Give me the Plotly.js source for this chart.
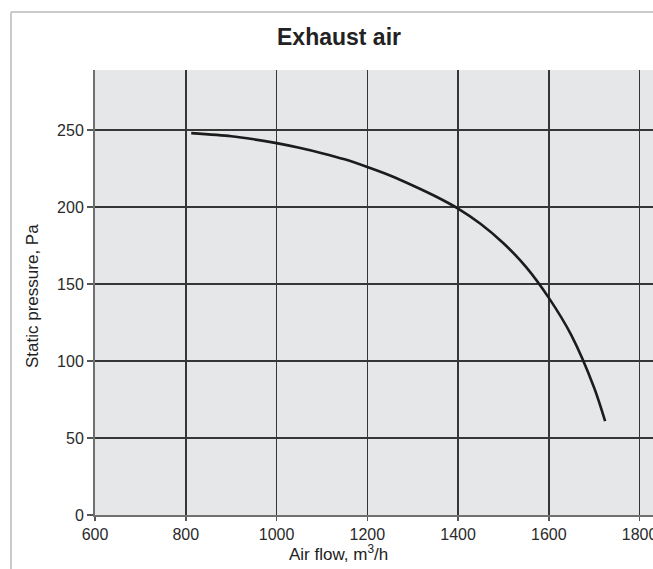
<!DOCTYPE html>
<html>
<head>
<meta charset="utf-8">
<script src="https://cdn.plot.ly/plotly-3.0.1.min.js"></script>
<style>html,body{margin:0;padding:0;background:#fff;}#chart{width:653px;height:569px;}</style>
</head>
<body>
<div id="chart"></div>
<script>
// Curve data
const airFlow = [812, 900, 950, 1000, 1050, 1100, 1150, 1200, 1250, 1300, 1350, 1400, 1450, 1500, 1550, 1600, 1650, 1700, 1724];
const staticPressure = [248, 246, 244, 241.5, 238.5, 235, 231, 226, 220.5, 214, 207, 199, 189, 176.5, 161, 141, 116.5, 82.5, 61];

const xTicks = [600, 800, 1000, 1200, 1400, 1600, 1800];
const yTicks = [0, 50, 100, 150, 200, 250];

const chartTitle = "Exhaust air";
const xTitle = "Air flow, m<sup>3</sup>/h";
const yTitle = "Static pressure, Pa";

const W = 653, H = 569;
const mL = 95, mR = 0, mT = 70, mB = 54;
const pw = W - mL - mR, ph = H - mT - mB;
const px = v => (v - mL) / pw;
const py = v => (H - mB - v) / ph;

const font = "Liberation Sans, Arial, Helvetica, sans-serif";

const trace = {
  x: airFlow, y: staticPressure, type: 'scatter', mode: 'lines',
  line: {color: '#1c1c1c', width: 2.6, shape: 'spline', smoothing: 0.8},
  hoverinfo: 'skip', showlegend: false
};

const layout = {
  width: W, height: H,
  margin: {l: mL, r: mR, t: mT, b: mB, autoexpand: false},
  paper_bgcolor: '#ffffff',
  plot_bgcolor: '#e6e7e9',
  font: {family: font, color: '#2a2a2a', size: 16},
  title: {
    text: '<b>' + chartTitle + '</b>',
    font: {family: font, size: 23, color: '#222'},
    x: 339 / W, xref: 'container', xanchor: 'center',
    y: 1 - 37 / H, yref: 'container', yanchor: 'middle'
  },
  xaxis: {
    range: [600, 600 + pw / 90.77 * 200],
    tickvals: xTicks,
    ticktext: xTicks.map(String),
    ticks: 'outside', ticklen: 4, tickwidth: 1.5, tickcolor: '#555',
    ticklabeloverflow: 'allow',
    showgrid: true, gridcolor: '#363636', gridwidth: 1.5,
    showline: true, linecolor: '#707070', linewidth: 2,
    zeroline: false,
    tickfont: {family: font, size: 16, color: '#2a2a2a'},
    fixedrange: true
  },
  yaxis: {
    range: [0, 289],
    tickvals: yTicks,
    ticktext: yTicks.map(String),
    ticks: 'outside', ticklen: 6, tickwidth: 1.5, tickcolor: '#555',
    showgrid: true, gridcolor: '#363636', gridwidth: 1.5,
    showline: true, linecolor: '#707070', linewidth: 2,
    zeroline: false,
    tickfont: {family: font, size: 16, color: '#2a2a2a'},
    fixedrange: true
  },
  annotations: [
    {text: xTitle, xref: 'paper', yref: 'paper', x: px(338), y: py(553),
     xanchor: 'center', yanchor: 'middle', showarrow: false,
     font: {family: font, size: 17, color: '#222'}},
    {text: yTitle, xref: 'paper', yref: 'paper', x: px(32), y: py(296),
     xanchor: 'center', yanchor: 'middle', showarrow: false, textangle: -90,
     font: {family: font, size: 17, color: '#222'}}
  ],
  shapes: [
    {type: 'line', xref: 'paper', yref: 'paper', x0: px(11), x1: px(11), y0: py(12), y1: py(600),
     line: {color: '#cacaca', width: 2}},
    {type: 'line', xref: 'paper', yref: 'paper', x0: px(11), x1: px(700), y0: py(12), y1: py(12),
     line: {color: '#cacaca', width: 2}}
  ]
};

Plotly.newPlot('chart', [trace], layout, {displayModeBar: false, staticPlot: true});
</script>
</body>
</html>
